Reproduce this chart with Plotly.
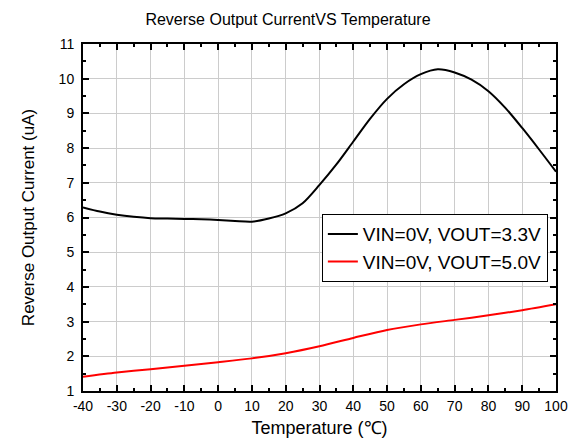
import plotly.graph_objects as go

temps_black = [-40, -35, -30, -25, -20, -15, -10, -5, 0, 5, 10, 15, 20, 25, 30, 35, 40,
               45, 50, 55, 60, 65, 70, 75, 80, 85, 90, 95, 100]
vout33 = [6.29, 6.17, 6.08, 6.02, 5.98, 5.97, 5.96, 5.95, 5.93, 5.90, 5.88, 5.97, 6.12,
          6.41, 6.94, 7.53, 8.19, 8.85, 9.42, 9.84, 10.13, 10.27, 10.18, 9.97, 9.64,
          9.16, 8.58, 7.96, 7.32]

temps_red = [-40, -30, -20, -10, 0, 10, 20, 30, 40, 50, 60, 70, 80, 90, 100]
vout50 = [1.41, 1.53, 1.63, 1.73, 1.83, 1.94, 2.09, 2.29, 2.53, 2.76, 2.92, 3.05, 3.18,
          3.33, 3.50]

x_ticks = list(range(-40, 101, 10))
x_labels = [str(v) for v in x_ticks]
y_ticks = list(range(1, 12))
y_labels = [str(v) for v in y_ticks]

FONT = "Arial, Liberation Sans, sans-serif"

fig = go.Figure()
fig.add_trace(go.Scatter(x=temps_black, y=vout33, mode="lines",
                         name="VIN=0V, VOUT=3.3V",
                         line=dict(color="black", width=2, shape="spline", smoothing=0.8)))
fig.add_trace(go.Scatter(x=temps_red, y=vout50, mode="lines",
                         name="VIN=0V, VOUT=5.0V",
                         line=dict(color="#ff0000", width=2, shape="spline", smoothing=0.8)))

axis_common = dict(
    showline=True, linecolor="black", linewidth=2, mirror="ticks",
    ticks="inside", ticklen=6, tickwidth=1.5, tickcolor="black",
    showgrid=True, gridcolor="#cccccc", gridwidth=1, zeroline=False,
    tickfont=dict(family=FONT, size=14, color="black"),
    automargin=False,
)

fig.update_xaxes(range=[-40, 100], tickvals=x_ticks, ticktext=x_labels,
                 ticklabelstandoff=1,
                 minor=dict(ticks="inside", ticklen=3, tickwidth=1.5, tickcolor="black", dtick=5, showgrid=False),
                 title=dict(text="Temperature (℃)", font=dict(family=FONT, size=18, color="black"), standoff=9),
                 **axis_common)
fig.update_yaxes(range=[1, 11], tickvals=y_ticks, ticktext=y_labels,
                 ticklabelstandoff=4,
                 minor=dict(ticks="inside", ticklen=3, tickwidth=1.5, tickcolor="black", dtick=0.5, showgrid=False),
                 title=dict(text="Reverse Output Current (uA)", font=dict(family=FONT, size=17, color="black"), standoff=20),
                 **axis_common)

fig.update_layout(
    width=576, height=443,
    margin=dict(l=83, r=20, t=44, b=52),
    paper_bgcolor="white", plot_bgcolor="white",
    title=dict(text="Reverse Output CurrentVS Temperature", x=0.5, xanchor="center",
               y=1 - 19 / 443, yanchor="middle",
               font=dict(family=FONT, size=16, color="black")),
    legend=dict(x=0.505, y=0.51, xanchor="left", yanchor="top",
                bordercolor="black", borderwidth=1, bgcolor="white",
                font=dict(family=FONT, size=19, color="black"),
                tracegroupgap=0, itemwidth=30),
    showlegend=True,
)

fig.write_html("out.html", config={"displayModeBar": False},
               post_script="document.body.style.margin='0px';")
